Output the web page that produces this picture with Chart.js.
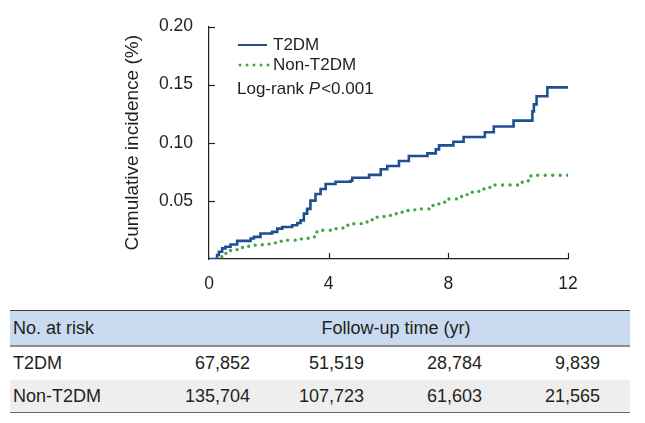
<!DOCTYPE html>
<html>
<head>
<meta charset="utf-8">
<script src="https://cdn.jsdelivr.net/npm/chart.js@4.4.0/dist/chart.umd.min.js"></script>
<style>
  html, body { margin: 0; padding: 0; background: #fff; }
  body { width: 645px; height: 423px; position: relative; overflow: hidden;
         font-family: "Liberation Sans", Arial, sans-serif; color: #231f20; }
  #chartBox { position: absolute; left: 0; top: 0; width: 645px; height: 300px; }
  #riskTable { position: absolute; left: 10px; top: 310px; width: 620px;
               border-collapse: collapse; table-layout: fixed; font-size: 18px; }
  #riskTable td { padding: 0; white-space: nowrap; }
  #riskTable tr.head td { background: #c9d9ef; height: 34px; }
  #riskTable tr.head { border-top: 1.5px solid #444; border-bottom: 2px solid #8a8a8a; }
  #riskTable tr.r1 td { height: 33px; }
  #riskTable tr.r2 td { background: #eeeeee; height: 32px; }
  #riskTable tr.r2 { border-bottom: 1.5px solid #666; }
  #riskTable td.lab { padding-left: 3px; }
  #riskTable td.num { text-align: right; }
  #riskTable td.span { text-align: center; padding-right: 18px; }
</style>
</head>
<body>
<div id="chartBox"><canvas id="kmChart" width="645" height="300"></canvas></div>
<table id="riskTable">
  <colgroup>
    <col style="width:170px"><col style="width:70px"><col style="width:114px">
    <col style="width:118px"><col style="width:118px"><col style="width:30px">
  </colgroup>
  <tbody id="riskBody"></tbody>
</table>
<script>
// follow-up time (yr) at each step, and cumulative incidence after the step
const t2dmTime = [0, 0.27, 0.33, 0.44, 0.55, 0.72, 0.94, 1.39, 1.50, 1.72, 2.11, 2.28, 2.45, 2.78, 2.95,
  3.06, 3.17, 3.28, 3.39, 3.56, 3.73, 3.90, 4.23, 4.73, 4.79, 5.35, 5.74, 5.96, 6.35, 6.68, 7.30,
  7.58, 7.69, 8.17, 8.51, 9.22, 9.52, 10.18, 10.81, 10.86, 10.95, 11.31, 12.0];
const t2dmValue = [0, 0.0034, 0.0063, 0.0091, 0.0105, 0.0125, 0.0156, 0.0176, 0.019, 0.0219, 0.0233, 0.0261, 0.0275, 0.029, 0.031,
  0.0332, 0.039, 0.0431, 0.0502, 0.0559, 0.0602, 0.0645, 0.0664, 0.0673, 0.0699, 0.0724, 0.0772, 0.08, 0.0843, 0.0886, 0.0909,
  0.0943, 0.0977, 0.1008, 0.105, 0.109, 0.114, 0.119, 0.127, 0.133, 0.140, 0.1476, 0.1476];

const nonTime = [0, 0.27, 0.50, 0.72, 0.94, 1.22, 1.50, 1.78, 2.06, 2.34, 2.61, 2.89, 3.12, 3.39, 3.56,
  3.79, 4.06, 4.29, 4.62, 4.84, 5.12, 5.35, 5.62, 5.85, 6.13, 6.35, 6.57, 6.85, 7.07, 7.35, 7.58,
  7.80, 8.02, 8.30, 8.52, 8.74, 9.02, 9.19, 9.47, 10.47, 10.70, 10.98, 12.0];
const nonValue = [0, 0.0019, 0.0048, 0.0077, 0.0099, 0.011, 0.0119, 0.0128, 0.0139, 0.0153, 0.0162, 0.0173, 0.0179, 0.019, 0.0233,
  0.0247, 0.0261, 0.0267, 0.029, 0.0304, 0.0318, 0.0338, 0.0361, 0.0375, 0.0389, 0.0403, 0.0417, 0.0423, 0.0431, 0.046, 0.0474,
  0.0489, 0.0517, 0.0537, 0.0554, 0.0574, 0.0588, 0.0616, 0.0636, 0.0673, 0.0715, 0.0721, 0.0721];

const xTicks = [0, 4, 8, 12];
const yTicks = [0.05, 0.10, 0.15, 0.20];

const seriesNames = ['T2DM', 'Non-T2DM'];
const riskHeader = ['No. at risk', 'Follow-up time (yr)'];
const riskT2dm = ['67,852', '51,519', '28,784', '9,839'];
const riskNon = ['135,704', '107,723', '61,603', '21,565'];

const blue = '#1f4e93';
const green = '#3fa646';
const ink = '#231f20';
const FONT = '"Liberation Sans", Arial, sans-serif';

function toPoints(xs, ys) {
    return xs.map((x, i) => ({ x: x, y: ys[i] }));
}

// inward tick marks, legend and log-rank note
const extrasPlugin = {
    id: 'extras',
    afterDraw(chart) {
        const ctx = chart.ctx;
        const xs = chart.scales.x;
        const ys = chart.scales.y;
        const area = chart.chartArea;
        ctx.save();
        ctx.strokeStyle = ink;
        ctx.lineWidth = 1.2;
        yTicks.forEach(v => {
            const py = Math.round(ys.getPixelForValue(v)) + 0.5;
            ctx.beginPath();
            ctx.moveTo(area.left, py);
            ctx.lineTo(area.left + 6, py);
            ctx.stroke();
        });
        xTicks.slice(1).forEach(v => {
            const px = Math.round(xs.getPixelForValue(v)) + 0.5;
            ctx.beginPath();
            ctx.moveTo(px, area.bottom);
            ctx.lineTo(px, area.bottom - 6);
            ctx.stroke();
        });

        // legend
        const lx = area.left + 29;
        ctx.font = '17px ' + FONT;
        ctx.textBaseline = 'middle';
        ctx.fillStyle = ink;

        ctx.strokeStyle = blue;
        ctx.lineWidth = 2;
        ctx.beginPath();
        ctx.moveTo(lx, 45);
        ctx.lineTo(lx + 29, 45);
        ctx.stroke();
        ctx.fillText(seriesNames[0], lx + 35, 45);

        ctx.strokeStyle = green;
        ctx.lineWidth = 3;
        ctx.lineCap = 'round';
        ctx.setLineDash([0, 7]);
        ctx.beginPath();
        ctx.moveTo(lx + 2, 65);
        ctx.lineTo(lx + 31, 65);
        ctx.stroke();
        ctx.setLineDash([]);
        ctx.fillText(seriesNames[1], lx + 35, 65);

        let tx = lx - 1;
        const part1 = 'Log-rank ';
        ctx.fillText(part1, tx, 89);
        tx += ctx.measureText(part1).width;
        ctx.font = 'italic 17px ' + FONT;
        ctx.fillText('P', tx, 89);
        tx += ctx.measureText('P').width + 1;
        ctx.font = '17px ' + FONT;
        ctx.fillText('<0.001', tx, 89);
        ctx.restore();
    }
};

const chart = new Chart(document.getElementById('kmChart').getContext('2d'), {
    type: 'line',
    data: {
        datasets: [
            {
                label: seriesNames[0],
                data: toPoints(t2dmTime, t2dmValue),
                borderColor: blue,
                borderWidth: 2.6,
                stepped: 'before',
                pointRadius: 0,
                fill: false
            },
            {
                label: seriesNames[1],
                data: toPoints(nonTime, nonValue),
                borderColor: green,
                borderWidth: 3.4,
                borderDash: [0, 7.5],
                borderCapStyle: 'round',
                stepped: 'before',
                pointRadius: 0,
                fill: false
            }
        ]
    },
    options: {
        responsive: false,
        devicePixelRatio: 1,
        animation: false,
        events: [],
        layout: { padding: { left: 0, right: 77, top: 24, bottom: 0 } },
        plugins: { legend: { display: false }, tooltip: { enabled: false } },
        scales: {
            x: {
                type: 'linear',
                min: 0,
                max: 12,
                afterFit: s => { s.height = 41; },
                afterBuildTicks: s => { s.ticks = xTicks.map(v => ({ value: v })); },
                grid: { display: true, drawOnChartArea: false, drawTicks: false },
                border: { display: true, color: ink, width: 1.2 },
                ticks: { padding: 15, color: ink, font: { family: FONT, size: 17.5 }, maxRotation: 0 }
            },
            y: {
                min: 0,
                max: 0.2,
                afterFit: s => { s.width = 209; },
                afterBuildTicks: s => { s.ticks = [0].concat(yTicks).map(v => ({ value: v })); },
                grid: { display: true, drawOnChartArea: false, drawTicks: false },
                border: { display: true, color: ink, width: 1.2 },
                ticks: {
                    padding: 16,
                    color: ink,
                    font: { family: FONT, size: 17.5 },
                    callback: v => (v === 0 ? '' : v.toFixed(2))
                },
                title: {
                    display: true,
                    text: 'Cumulative incidence (%)',
                    color: ink,
                    font: { family: FONT, size: 19 },
                    padding: { top: 121, bottom: 0 }
                }
            }
        }
    },
    plugins: [extrasPlugin]
});

// number-at-risk table
const body = document.getElementById('riskBody');
function addRow(cls, cells) {
    const tr = document.createElement('tr');
    tr.className = cls;
    cells.forEach(c => {
        const td = document.createElement('td');
        td.textContent = c.text;
        if (c.cls) td.className = c.cls;
        if (c.span) td.colSpan = c.span;
        tr.appendChild(td);
    });
    body.appendChild(tr);
}
addRow('head', [{ text: riskHeader[0], cls: 'lab' }, { text: riskHeader[1], cls: 'span', span: 5 }]);
addRow('r1', [{ text: seriesNames[0], cls: 'lab' }].concat(riskT2dm.map(t => ({ text: t, cls: 'num' })), [{ text: '' }]));
addRow('r2', [{ text: seriesNames[1], cls: 'lab' }].concat(riskNon.map(t => ({ text: t, cls: 'num' })), [{ text: '' }]));
</script>
</body>
</html>
